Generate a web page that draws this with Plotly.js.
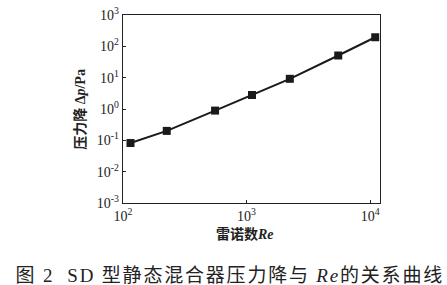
<!DOCTYPE html>
<html>
<head>
<meta charset="utf-8">
<script src="https://cdn.plot.ly/plotly-3.0.1.min.js"></script>
<style>html,body{margin:0;padding:0;background:#fff;}#chart{width:447px;height:285px;}</style>
</head>
<body>
<div id="chart"></div>
<script>
// Reynolds number (x) and pressure drop Δp/Pa (y)
var reynolds = [115, 226, 556, 1107, 2240, 5520, 11000];
var pressureDrop = [0.082, 0.20, 0.89, 2.8, 9.2, 51, 195];

// tick positions and labels
var xTickVals = [100, 1000, 10000];
var xTickText = ['10<sup>2</sup>', '10<sup>3</sup>', '10<sup>4</sup>'];
var yTickVals = [0.001, 0.01, 0.1, 1, 10, 100, 1000];
var yTickText = ['10<sup>-3</sup>', '10<sup>-2</sup>', '10<sup>-1</sup>', '10<sup>0</sup>',
                 '10<sup>1</sup>', '10<sup>2</sup>', '10<sup>3</sup>'];

var xTitle = '<b>雷诺数</b><b><i>Re</i></b>';
var yTitle = '<b>压力降 Δ</b><b><i>p</i></b><b>/Pa</b>';
var caption = '图 2  SD 型静态混合器压力降与 <i>Re</i>的关系曲线';

var trace = {
  x: reynolds,
  y: pressureDrop,
  mode: 'lines+markers',
  type: 'scatter',
  line: {color: '#1a1a1a', width: 2},
  marker: {symbol: 'square', size: 8, color: '#1a1a1a'},
  hoverinfo: 'skip'
};

var tickFont = {family: 'Liberation Serif, DejaVu Serif, serif', size: 14, color: '#222'};

var layout = {
  width: 447, height: 285,
  margin: {l: 123, r: 67, t: 15, b: 81.5, pad: 0},
  paper_bgcolor: '#fff', plot_bgcolor: '#fff',
  showlegend: false,
  xaxis: {
    type: 'log', range: [2, 4.08],
    tickmode: 'array', tickvals: xTickVals, ticktext: xTickText,
    showgrid: false, zeroline: false,
    showline: true, linecolor: '#222', linewidth: 1.3, mirror: true,
    ticks: 'inside', ticklen: 3, tickcolor: '#222', tickwidth: 1,
    tickfont: tickFont
  },
  yaxis: {
    type: 'log', range: [-3, 3],
    tickmode: 'array', tickvals: yTickVals, ticktext: yTickText,
    showgrid: false, zeroline: false,
    showline: true, linecolor: '#222', linewidth: 1.3, mirror: true,
    ticks: 'inside', ticklen: 3, tickcolor: '#222', tickwidth: 1,
    tickfont: tickFont
  },
  annotations: [
    {text: xTitle, xref: 'paper', yref: 'paper', x: 0.474, y: -0.165,
     xanchor: 'center', yanchor: 'middle', showarrow: false,
     font: {family: 'Liberation Serif, Noto Sans CJK SC', size: 14, color: '#222'}},
    {text: yTitle, xref: 'paper', yref: 'paper', x: -0.168, y: 0.50,
     xanchor: 'center', yanchor: 'middle', showarrow: false, textangle: -90,
     font: {family: 'Liberation Serif, Noto Sans CJK SC', size: 14, color: '#222'}},
    {text: caption, xref: 'paper', yref: 'paper', x: 0.416, y: -0.383,
     xanchor: 'center', yanchor: 'middle', showarrow: false,
     font: {family: 'Liberation Serif, Noto Sans CJK SC', size: 19, color: '#222'}}
  ]
};

Plotly.newPlot('chart', [trace], layout, {staticPlot: true, displayModeBar: false}).then(function () {
  var anns = document.querySelectorAll('.annotation-text');
  if (anns.length > 2) { anns[2].style.letterSpacing = '1.8px'; }
});
</script>
</body>
</html>
